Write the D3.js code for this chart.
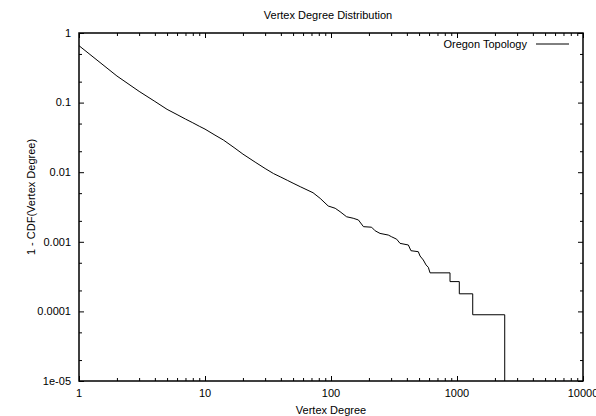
<!DOCTYPE html>
<html>
<head>
<meta charset="utf-8">
<script src="https://cdn.jsdelivr.net/npm/d3@7"></script>
<style>
  body { margin: 0; background: #fff; }
  text { font-family: "Liberation Sans", Arial, sans-serif; font-size: 11px; fill: #000; }
</style>
</head>
<body>
<svg id="chart" width="596" height="416"></svg>
<script>
// values (degree, 1 - CDF)
const degrees = [1, 2, 3, 4, 5, 6, 7, 8, 9, 10, 12, 14, 17, 20, 25, 30, 35, 40, 45, 50,
  57, 72, 82, 95, 108, 118, 133, 150, 165, 181, 210, 224, 245, 285, 303, 332, 353, 411, 431, 493,
  509, 540, 568, 592, 611, 880, 880, 1043, 1043, 1333, 1333, 2392, 2392];
const ccdf = [0.657, 0.241, 0.145, 0.104, 0.08, 0.0673, 0.058, 0.0513, 0.0458, 0.0416,
  0.0341, 0.029, 0.0226, 0.0182, 0.01396, 0.0113, 0.00955, 0.0085, 0.00765, 0.00695,
  0.00619, 0.00507, 0.00421, 0.00327, 0.00303, 0.00271, 0.00229, 0.00218, 0.00206, 0.00165,
  0.00162, 0.00144, 0.00132, 0.00125, 0.00118, 0.00109, 0.00095, 0.0009, 0.000745, 0.000721,
  0.000625, 0.000548, 0.000465, 0.00043, 0.000358, 0.000358, 0.000268, 0.000268, 0.000179, 0.000179,
  0.0000895, 0.0000895, 0.00001];

const xTicks = [1, 10, 100, 1000, 10000];
const xTickLabels = ["1", "10", "100", "1000", "10000"];
const yTicks = [1, 0.1, 0.01, 0.001, 0.0001, 0.00001];
const yTickLabels = ["1", "0.1", "0.01", "0.001", "0.0001", "1e-05"];
const seriesName = "Oregon Topology";

const margin = { left: 79, right: 13, top: 33, bottom: 35 };
const width = 596;
const height = 416;

const svg = d3.select("#chart");

const x = d3.scaleLog()
  .domain([1, 10000])
  .range([margin.left, width - margin.right]);

const y = d3.scaleLog()
  .domain([0.00001, 1])
  .range([height - margin.bottom, margin.top]);

// minor ticks: 2..9 per decade on x, 2 and 5 on y
const xMinor = [];
for (let d = 1; d < 10000; d *= 10) {
  for (let k = 2; k <= 9; k++) xMinor.push(d * k);
}
const yMinor = [];
for (let d = 0.00001; d < 1; d *= 10) {
  yMinor.push(d * 2, d * 5);
}

function drawTicks(axis, values, size, transform) {
  svg.append("g")
    .attr("transform", transform)
    .call(axis.tickValues(values).tickSize(size).tickFormat(""))
    .call((g) => g.select(".domain").remove())
    .call((g) => g.selectAll("line").attr("stroke", "#000"));
}

const x0 = x.range()[0], x1 = x.range()[1];
const y0 = y.range()[0], y1 = y.range()[1];

drawTicks(d3.axisBottom(x), xTicks, -5, `translate(0,${y0})`);
drawTicks(d3.axisBottom(x), xMinor, -3, `translate(0,${y0})`);
drawTicks(d3.axisTop(x), xTicks, -5, `translate(0,${y1})`);
drawTicks(d3.axisTop(x), xMinor, -3, `translate(0,${y1})`);
drawTicks(d3.axisLeft(y), yTicks, -5, `translate(${x0},0)`);
drawTicks(d3.axisLeft(y), yMinor, -3, `translate(${x0},0)`);
drawTicks(d3.axisRight(y), yTicks, -5, `translate(${x1},0)`);
drawTicks(d3.axisRight(y), yMinor, -3, `translate(${x1},0)`);

// tick labels
svg.append("g")
  .selectAll("text")
  .data(xTicks)
  .enter()
  .append("text")
  .attr("x", (d) => x(d))
  .attr("y", y0 + 16)
  .attr("text-anchor", "middle")
  .text((d, i) => xTickLabels[i]);

svg.append("g")
  .selectAll("text")
  .data(yTicks)
  .enter()
  .append("text")
  .attr("x", x0 - 8)
  .attr("y", (d) => y(d))
  .attr("dy", "0.35em")
  .attr("text-anchor", "end")
  .text((d, i) => yTickLabels[i]);

// the curve
const points = degrees.map((d, i) => [d, ccdf[i]]);

const line = d3.line()
  .x((d) => x(d[0]))
  .y((d) => y(d[1]));

svg.append("path")
  .datum(points)
  .attr("d", line)
  .attr("fill", "none")
  .attr("stroke", "#000")
  .attr("stroke-width", 1);

// border
svg.append("rect")
  .attr("x", x0)
  .attr("y", y1)
  .attr("width", x1 - x0)
  .attr("height", y0 - y1)
  .attr("fill", "none")
  .attr("stroke", "#000")
  .attr("stroke-width", 1.5);

// titles
svg.append("text")
  .attr("x", 328)
  .attr("y", 19)
  .attr("text-anchor", "middle")
  .text("Vertex Degree Distribution");

svg.append("text")
  .attr("x", (x0 + x1) / 2)
  .attr("y", 414)
  .attr("text-anchor", "middle")
  .text("Vertex Degree");

svg.append("text")
  .attr("transform", "translate(35,197) rotate(-90)")
  .attr("text-anchor", "middle")
  .text("1 - CDF(Vertex Degree)");

// legend
svg.append("text")
  .attr("x", 527)
  .attr("y", 48)
  .attr("text-anchor", "end")
  .text(seriesName);

svg.append("line")
  .attr("x1", 536)
  .attr("x2", 569)
  .attr("y1", 44)
  .attr("y2", 44)
  .attr("stroke", "#000")
  .attr("stroke-width", 1);
</script>
</body>
</html>
